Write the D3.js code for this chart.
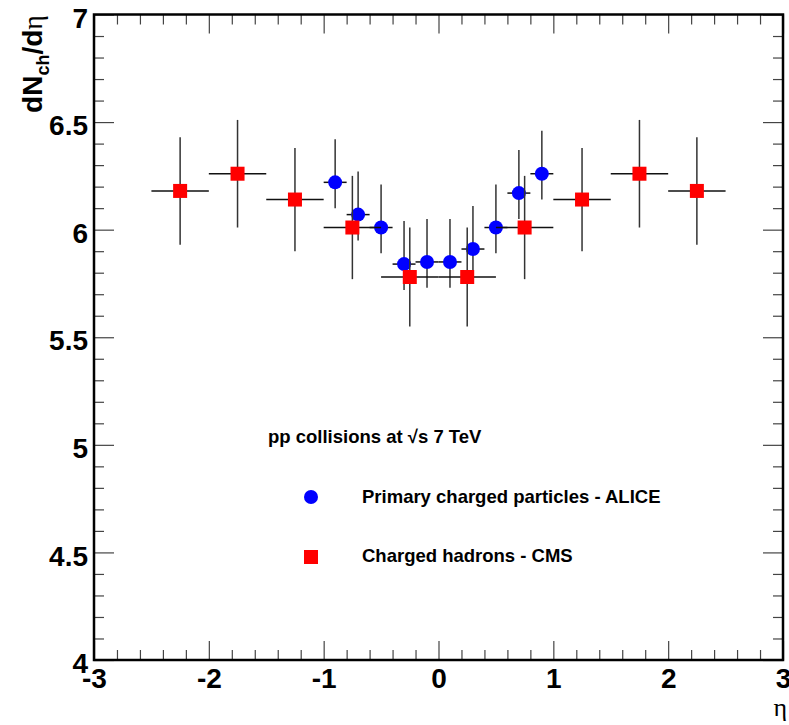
<!DOCTYPE html>
<meta charset="utf-8">
<head>
  <style>
    body { margin: 0; background: #fff; }
    .lbl { font-family: "Liberation Sans", Arial, sans-serif; font-weight: bold; }
    .tick text { font-family: "Liberation Sans", Arial, sans-serif; font-weight: bold; font-size: 28px; fill: #000; }
    .tick line { stroke: #444; stroke-width: 1.2; }
    .domain { display: none; }
  </style>
  <script src="https://cdn.jsdelivr.net/npm/d3@7"></script>
</head>
<body>
  <svg width="789" height="725"></svg>
  <script>

    // ALICE primary charged particles (asymmetric syst. errors)
    var aliceEta = [-0.9, -0.7, -0.5, -0.3, -0.1, 0.1, 0.3, 0.5, 0.7, 0.9]
    var aliceVal = [6.22, 6.07, 6.01, 5.84, 5.85, 5.85, 5.91, 6.01, 6.17, 6.26]
    var aliceErrUp = 0.20, aliceErrDown = 0.12, aliceHalfBin = 0.1

    // CMS charged hadrons
    var cmsEta = [-2.25, -1.75, -1.25, -0.75, -0.25, 0.25, 0.75, 1.25, 1.75, 2.25]
    var cmsVal = [6.18, 6.26, 6.14, 6.01, 5.78, 5.78, 6.01, 6.14, 6.26, 6.18]
    var cmsErr = [0.25, 0.25, 0.24, 0.24, 0.23, 0.23, 0.24, 0.24, 0.25, 0.25]
    var cmsHalfBin = 0.25

    var xTicks = [-3, -2, -1, 0, 1, 2, 3]
    var yTicks = [4, 4.5, 5, 5.5, 6, 6.5, 7]

    var svg = d3.select("svg")

    var x = d3.scaleLinear().domain([-3, 3]).range([94, 783])
    var y = d3.scaleLinear().domain([4, 7]).range([660, 14.5])

    var xMinor = d3.range(-3, 3.001, 0.2).filter(function(v) { return Math.abs(v - Math.round(v)) > 1e-6; })
    var yMinor = d3.range(4, 7.001, 0.1).filter(function(v) { return Math.abs(v * 2 - Math.round(v * 2)) > 1e-6; })

    // plain hyphen for negatives, like the original
    var fmt = function(d) { return String(d); }

    // axes: ticks point inward, mirrored on top/right
    svg.append("g").attr("transform", "translate(0,660)")
      .call(d3.axisBottom(x).tickValues(xTicks).tickSize(-19).tickPadding(8).tickFormat(fmt))
    svg.append("g").attr("transform", "translate(0,660)")
      .call(d3.axisBottom(x).tickValues(xMinor).tickSize(-10).tickFormat(""))
    svg.append("g").attr("transform", "translate(0,14.5)")
      .call(d3.axisTop(x).tickValues(xTicks).tickSize(-19).tickFormat(""))
    svg.append("g").attr("transform", "translate(0,14.5)")
      .call(d3.axisTop(x).tickValues(xMinor).tickSize(-10).tickFormat(""))

    var yl = svg.append("g").attr("transform", "translate(94,0)")
      .call(d3.axisLeft(y).tickValues(yTicks).tickSize(-20).tickPadding(6).tickFormat(fmt))
    yl.selectAll("text").attr("dy", "0.45em")
    svg.append("g").attr("transform", "translate(94,0)")
      .call(d3.axisLeft(y).tickValues(yMinor).tickSize(-10).tickFormat(""))
    svg.append("g").attr("transform", "translate(783,0)")
      .call(d3.axisRight(y).tickValues(yTicks).tickSize(-20).tickFormat(""))
    svg.append("g").attr("transform", "translate(783,0)")
      .call(d3.axisRight(y).tickValues(yMinor).tickSize(-10).tickFormat(""))

    // frame
    svg.append("rect")
      .attr("x", x(-3)).attr("y", y(7))
      .attr("width", x(3) - x(-3)).attr("height", y(4) - y(7))
      .attr("fill", "none").attr("stroke", "#000").attr("stroke-width", 2.5)

    var alice = aliceEta.map(function(e, i) { return {eta: e, v: aliceVal[i]}; })
    var cms = cmsEta.map(function(e, i) { return {eta: e, v: cmsVal[i], err: cmsErr[i]}; })

    // ALICE error bars + markers
    var ga = svg.append("g")
    ga.selectAll("line.h").data(alice).enter().append("line")
      .attr("x1", function(d) { return x(d.eta - aliceHalfBin); })
      .attr("x2", function(d) { return x(d.eta + aliceHalfBin); })
      .attr("y1", function(d) { return y(d.v); })
      .attr("y2", function(d) { return y(d.v); })
      .attr("stroke", "#111").attr("stroke-width", 1.5)
    ga.selectAll("line.v").data(alice).enter().append("line")
      .attr("x1", function(d) { return x(d.eta); })
      .attr("x2", function(d) { return x(d.eta); })
      .attr("y1", function(d) { return y(d.v + aliceErrUp); })
      .attr("y2", function(d) { return y(d.v - aliceErrDown); })
      .attr("stroke", "#333").attr("stroke-width", 1.5)
    ga.selectAll("circle").data(alice).enter().append("circle")
      .attr("cx", function(d) { return x(d.eta); })
      .attr("cy", function(d) { return y(d.v); })
      .attr("r", 7)
      .attr("fill", "#0000ff")

    // CMS error bars + markers
    var gc = svg.append("g")
    gc.selectAll("line.h").data(cms).enter().append("line")
      .attr("x1", function(d) { return x(d.eta - cmsHalfBin); })
      .attr("x2", function(d) { return x(d.eta + cmsHalfBin); })
      .attr("y1", function(d) { return y(d.v); })
      .attr("y2", function(d) { return y(d.v); })
      .attr("stroke", "#111").attr("stroke-width", 1.5)
    gc.selectAll("line.v").data(cms).enter().append("line")
      .attr("x1", function(d) { return x(d.eta); })
      .attr("x2", function(d) { return x(d.eta); })
      .attr("y1", function(d) { return y(d.v + d.err); })
      .attr("y2", function(d) { return y(d.v - d.err); })
      .attr("stroke", "#333").attr("stroke-width", 1.5)
    gc.selectAll("rect").data(cms).enter().append("rect")
      .attr("x", function(d) { return x(d.eta) - 7; })
      .attr("y", function(d) { return y(d.v) - 7; })
      .attr("width", 14).attr("height", 14)
      .attr("fill", "#ff0000")

    // legend
    svg.append("text").attr("class", "lbl").attr("font-size", "18.5px")
      .attr("x", 268).attr("y", 443).text("pp collisions at √s 7 TeV")
    svg.append("circle").attr("cx", 311).attr("cy", 497).attr("r", 7).attr("fill", "#0000ff")
    svg.append("text").attr("class", "lbl").attr("font-size", "18.5px")
      .attr("x", 362).attr("y", 503).text("Primary charged particles - ALICE")
    svg.append("rect").attr("x", 304).attr("y", 550).attr("width", 14).attr("height", 14).attr("fill", "#ff0000")
    svg.append("text").attr("class", "lbl").attr("font-size", "18.5px")
      .attr("x", 362).attr("y", 562).text("Charged hadrons - CMS")

    // axis titles
    svg.append("text")
      .attr("x", 787).attr("y", 716)
      .attr("text-anchor", "end")
      .attr("font-family", "'Liberation Serif', 'DejaVu Serif', serif")
      .attr("font-size", "26px")
      .text("η")

    var yt = svg.append("text").attr("class", "lbl")
      .attr("transform", "translate(42,15) rotate(-90)")
      .attr("text-anchor", "end")
      .attr("font-size", "28px")
    yt.append("tspan").text("dN")
    yt.append("tspan").attr("font-size", "18px").attr("dy", 7).text("ch")
    yt.append("tspan").attr("dy", -7).text("/d")
    yt.append("tspan").attr("font-weight", "normal")
      .attr("font-family", "'Liberation Serif', 'DejaVu Serif', serif").text("η")

  </script>
</body>
